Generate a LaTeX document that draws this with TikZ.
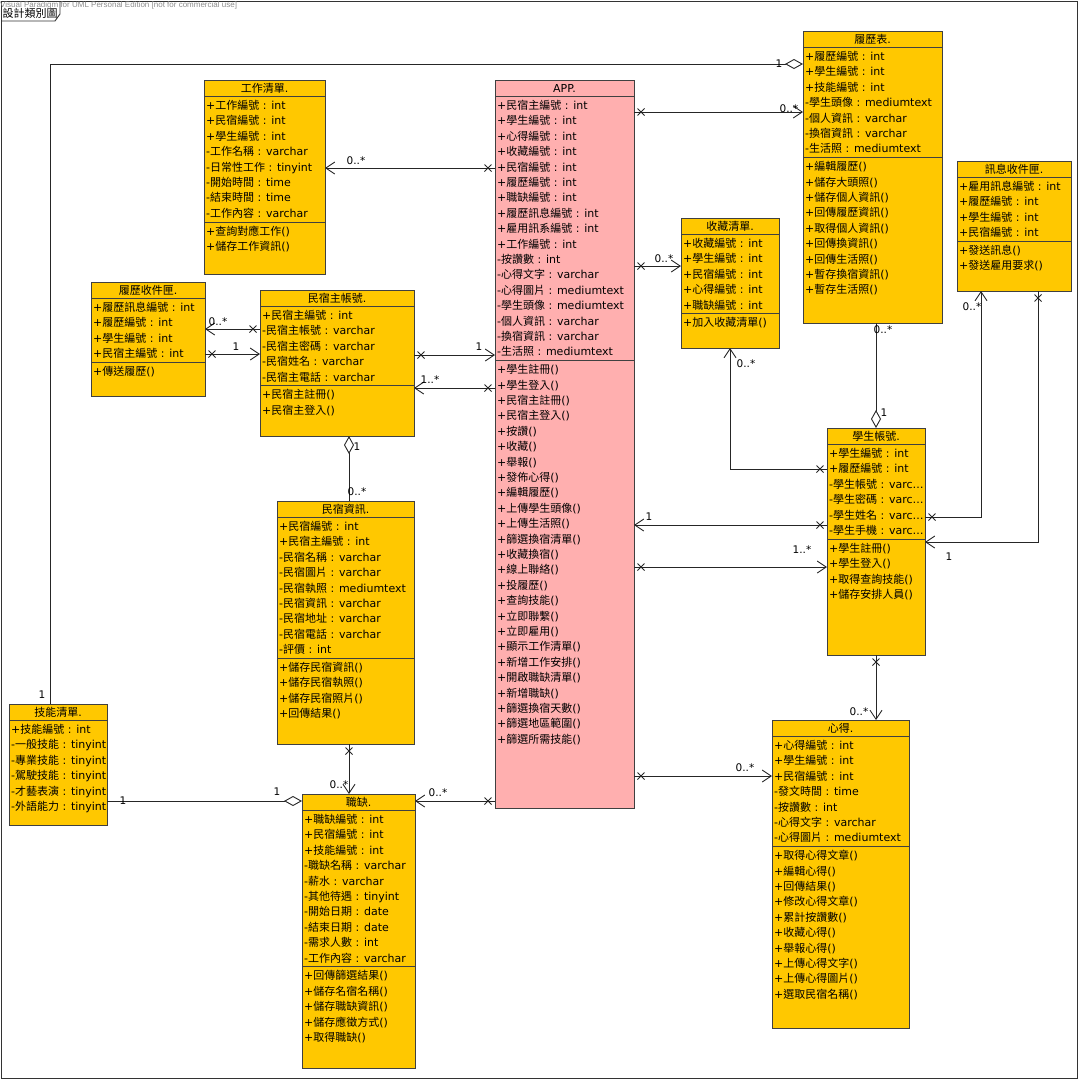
\documentclass[tikz,border=0pt]{standalone}
\usepackage{fontspec}
\usetikzlibrary{arrows.meta,decorations.markings}
\setmainfont{DejaVu Sans}
\newfontfamily\latinfont{DejaVu Sans}
\newfontfamily\cjkfont{Noto Sans CJK TC}
\newfontfamily\wmfont{Liberation Sans}
\chardef\cjkclass=10
\count255="4E00
\loop
  \XeTeXcharclass\count255=\cjkclass
  \ifnum\count255<"9FFF \advance\count255 by 1
\repeat
\XeTeXinterchartoks 0 \cjkclass={\cjkfont}
\XeTeXinterchartoks 4095 \cjkclass={\cjkfont}
\XeTeXinterchartoks \cjkclass 0={\latinfont}
\XeTeXinterchartoks \cjkclass 4095={\latinfont}
\XeTeXinterchartokenstate=1
\definecolor{umlyellow}{RGB}{255,200,0}
\definecolor{umlpink}{RGB}{255,175,175}
\tikzset{
  cls/.style={draw=black!75, fill=umlyellow, line width=0.9pt, anchor=north west, inner sep=0pt, outer sep=0pt},
  clsapp/.style={cls, fill=umlpink},
  ttl/.style={anchor=base, inner sep=0pt, font=\fontsize{11}{14}\selectfont},
  attr/.style={anchor=base west, inner sep=0pt, font=\fontsize{11}{14}\selectfont},
  sepline/.style={draw=black!75, line width=0.9pt},
  link/.style={draw=black!85, line width=0.9pt},
  nav/.style={link, -{Straight Barb[length=9pt,width=12pt]}},
  agg/.style={link, -{Diamond[open,length=18pt,width=10pt]}},
  xs/.style={postaction={decorate,decoration={markings,mark=at position 7pt with {\draw[link, arrows=-] (-3.5,-3.5) -- (3.5,3.5) (-3.5,3.5) -- (3.5,-3.5);}}}},
  mult/.style={inner sep=0pt, font=\fontsize{10.5}{12}\selectfont}
}
\newcommand{\umlclass}[9]{%
  \node[#2, minimum width=#5, minimum height=#6] (#1) at (#3,#4) {};
  \begin{scope}[shift={(#3,#4)}]
    \node[ttl] at ({#5/2},12) {#7};
    \draw[sepline] (0,16.5) -- (#5,16.5);
    \foreach \rowtxt [count=\rowno] in {#8} {
      \node[attr] at (2,{29.5+(\rowno-1)*15.4}) {\rowtxt};
      \xdef\nrow{\rowno}
    }
    \ifx\relax#9\relax\else
      \draw[sepline] (0,{18.9+\nrow*15.4}) -- (#5,{18.9+\nrow*15.4});
      \foreach \rowtxt [count=\rowno] in {#9} {
        \node[attr] at (2,{31.9+\nrow*15.4+(\rowno-1)*15.4}) {\rowtxt};
      }
    \fi
  \end{scope}
}
\begin{document}
\begin{tikzpicture}[x=1pt,y=-1pt]
  \useasboundingbox (0,0) rectangle (1082,1080);
  \draw[black!80, line width=0.9pt] (1,1) rectangle (1077,1078);
  \draw[black!80, line width=0.9pt] (1,21) -- (55,21) -- (60,14) -- (60,1);
  \node[ttl] (tab) at (30,17) {設計類別圖};
  \node[anchor=west, inner sep=0pt, text=black!45, font=\wmfont\fontsize{8}{9}\selectfont] (wm) at (0,5) {Visual Paradigm for UML Personal Edition [not for commercial use]};

  \umlclass{work}{cls}{204}{80}{121}{194}{工作清單.}
    {+工作編號 : int, +民宿編號 : int, +學生編號 : int, -工作名稱 : varchar, -日常性工作 : tinyint, -開始時間 : time, -結束時間 : time, -工作內容 : varchar}
    {+查詢對應工作(), +儲存工作資訊()}
  \umlclass{app}{clsapp}{495}{80}{139}{728}{APP.}
    {+民宿主編號 : int, +學生編號 : int, +心得編號 : int, +收藏編號 : int, +民宿編號 : int, +履歷編號 : int, +職缺編號 : int, +履歷訊息編號 : int, +雇用訊系編號 : int, +工作編號 : int, -按讚數 : int, -心得文字 : varchar, -心得圖片 : mediumtext, -學生頭像 : mediumtext, -個人資訊 : varchar, -換宿資訊 : varchar, -生活照 : mediumtext}
    {+學生註冊(), +學生登入(), +民宿主註冊(), +民宿主登入(), +按讚(), +收藏(), +舉報(), +發佈心得(), +編輯履歷(), +上傳學生頭像(), +上傳生活照(), +篩選換宿清單(), +收藏換宿(), +線上聯絡(), +投履歷(), +查詢技能(), +立即聯繫(), +立即雇用(), +顯示工作清單(), +新增工作安排(), +開啟職缺清單(), +新增職缺(), +篩選換宿天數(), +篩選地區範圍(), +篩選所需技能()}
  \umlclass{resume}{cls}{803}{31}{139}{292}{履歷表.}
    {+履歷編號 : int, +學生編號 : int, +技能編號 : int, -學生頭像 : mediumtext, -個人資訊 : varchar, -換宿資訊 : varchar, -生活照 : mediumtext}
    {+編輯履歷(), +儲存大頭照(), +儲存個人資訊(), +回傳履歷資訊(), +取得個人資訊(), +回傳換資訊(), +回傳生活照(), +暫存換宿資訊(), +暫存生活照()}
  \umlclass{msg}{cls}{957}{161}{114}{130}{訊息收件匣.}
    {+雇用訊息編號 : int, +履歷編號 : int, +學生編號 : int, +民宿編號 : int}
    {+發送訊息(), +發送雇用要求()}
  \umlclass{fav}{cls}{681}{218}{98}{130}{收藏清單.}
    {+收藏編號 : int, +學生編號 : int, +民宿編號 : int, +心得編號 : int, +職缺編號 : int}
    {+加入收藏清單()}
  \umlclass{inbox}{cls}{91}{282}{114}{114}{履歷收件匣.}
    {+履歷訊息編號 : int, +履歷編號 : int, +學生編號 : int, +民宿主編號 : int}
    {+傳送履歷()}
  \umlclass{owner}{cls}{260}{290}{154}{146}{民宿主帳號.}
    {+民宿主編號 : int, -民宿主帳號 : varchar, -民宿主密碼 : varchar, -民宿姓名 : varchar, -民宿主電話 : varchar}
    {+民宿主註冊(), +民宿主登入()}
  \umlclass{house}{cls}{277}{501}{137}{243}{民宿資訊.}
    {+民宿編號 : int, +民宿主編號 : int, -民宿名稱 : varchar, -民宿圖片 : varchar, -民宿執照 : mediumtext, -民宿資訊 : varchar, -民宿地址 : varchar, -民宿電話 : varchar, -評價 : int}
    {+儲存民宿資訊(), +儲存民宿執照(), +儲存民宿照片(), +回傳結果()}
  \umlclass{job}{cls}{302}{794}{113}{274}{職缺.}
    {+職缺編號 : int, +民宿編號 : int, +技能編號 : int, -職缺名稱 : varchar, -薪水 : varchar, -其他待遇 : tinyint, -開始日期 : date, -結束日期 : date, -需求人數 : int, -工作內容 : varchar}
    {+回傳篩選結果(), +儲存名宿名稱(), +儲存職缺資訊(), +儲存應徵方式(), +取得職缺()}
  \umlclass{skill}{cls}{9}{704}{98}{121}{技能清單.}
    {+技能編號 : int, -一般技能 : tinyint, -專業技能 : tinyint, -駕駛技能 : tinyint, -才藝表演 : tinyint, -外語能力 : tinyint}
    {}
  \umlclass{student}{cls}{827}{428}{98}{227}{學生帳號.}
    {+學生編號 : int, +履歷編號 : int, -學生帳號 : varc…, -學生密碼 : varc…, -學生姓名 : varc…, -學生手機 : varc…}
    {+學生註冊(), +學生登入(), +取得查詢技能(), +儲存安排人員()}
  \umlclass{exp}{cls}{772}{720}{137}{308}{心得.}
    {+心得編號 : int, +學生編號 : int, +民宿編號 : int, -發文時間 : time, -按讚數 : int, -心得文字 : varchar, -心得圖片 : mediumtext}
    {+取得心得文章(), +編輯心得(), +回傳結果(), +修改心得文章(), +累計按讚數(), +收藏心得(), +舉報心得(), +上傳心得文字(), +上傳心得圖片(), +選取民宿名稱()}

  \draw[agg] (skill.north -| 50,0) -- (50,64) node[mult, at start, shift={(-8,-9)}] {1}
    -- (resume.west |- 0,64) node[mult, at end, shift={(-24,0)}] {1};
  \draw[nav, xs] (app.east |- 0,112) -- (resume.west |- 0,112) node[mult, at end, shift={(-14,-3)}] {0..*};
  \draw[nav, xs] (app.west |- 0,168) -- (work.east |- 0,168) node[mult, at end, shift={(31,-7)}] {0..*};
  \draw[nav, xs] (app.east |- 0,266) -- (fav.west |- 0,266) node[mult, at end, shift={(-17,-7)}] {0..*};
  \draw[nav, xs] (owner.west |- 0,329) -- (inbox.east |- 0,329) node[mult, at end, shift={(13,-7)}] {0..*};
  \draw[nav, xs] (inbox.east |- 0,354) -- (owner.west |- 0,354) node[mult, at end, shift={(-24,-7)}] {1};
  \draw[nav, xs] (owner.east |- 0,355) -- (app.west |- 0,355) node[mult, at end, shift={(-16,-8)}] {1};
  \draw[nav, xs] (app.west |- 0,388) -- (owner.east |- 0,388) node[mult, at end, shift={(16,-8)}] {1..*};
  \draw[agg] (house.north -| 349,0) -- (owner.south -| 349,0) node[mult, at start, shift={(8,-9)}] {0..*}
    node[mult, at end, shift={(8,11)}] {1};
  \draw[nav, xs] (house.south -| 349,0) -- (job.north -| 349,0) node[mult, at end, shift={(-10,-9)}] {0..*};
  \draw[agg] (skill.east |- 0,801) -- (job.west |- 0,801) node[mult, at start, shift={(16,0)}] {1}
    node[mult, at end, shift={(-25,-9)}] {1};
  \draw[nav, xs] (app.west |- 0,801) -- (job.east |- 0,801) node[mult, at end, shift={(23,-8)}] {0..*};
  \draw[nav, xs] (app.east |- 0,776) -- (exp.west |- 0,776) node[mult, at end, shift={(-27,-8)}] {0..*};
  \draw[nav, xs] (student.south -| 876,0) -- (exp.north -| 876,0) node[mult, at end, shift={(-17,-8)}] {0..*};
  \draw[agg] (resume.south -| 876,0) -- (student.north -| 876,0) node[mult, at start, shift={(7,7)}] {0..*}
    node[mult, at end, shift={(8,-15)}] {1};
  \draw[nav, xs] (student.west |- 0,469) -- (730,469) -- (fav.south -| 730,0) node[mult, at end, shift={(16,16)}] {0..*};
  \draw[nav, xs] (student.east |- 0,517) -- (981,517) -- (msg.south -| 981,0) node[mult, at end, shift={(-9,16)}] {0..*};
  \draw[nav, xs] (msg.south -| 1038,0) -- (1038,542) -- (student.east |- 0,542) node[mult, at end, shift={(24,15)}] {1};
  \draw[nav, xs] (student.west |- 0,525) -- (app.east |- 0,525) node[mult, at end, shift={(15,-8)}] {1};
  \draw[nav, xs] (app.east |- 0,567) -- (student.west |- 0,567) node[mult, at end, shift={(-25,-17)}] {1..*};
\end{tikzpicture}
\end{document}
